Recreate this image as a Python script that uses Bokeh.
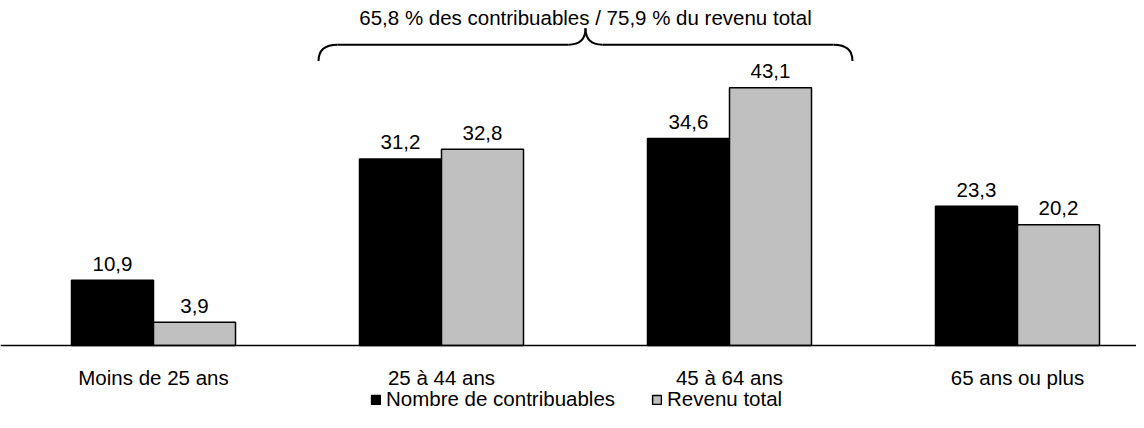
import numpy as np
from bokeh.plotting import figure
from bokeh.models import ColumnDataSource, Range1d, Legend, LegendItem, Span
from bokeh.core.properties import value
from bokeh.transform import dodge
from bokeh.embed import file_html
from bokeh.resources import INLINE

# ---------------- data ----------------
categories = ["Moins de 25 ans", "25 à 44 ans", "45 à 64 ans", "65 ans ou plus"]
series_names = ["Nombre de contribuables", "Revenu total"]
contribuables = [10.9, 31.2, 34.6, 23.3]
revenu = [3.9, 32.8, 43.1, 20.2]
brace_groups = [1, 2]   # groups covered by the brace


def fr(v):
    return f"{v:.1f}".replace(".", ",")


# ---------------- layout / style ----------------
FONT = "Liberation Sans"
FS = "20.5px"
W, H = 1136, 412
PX_PER_CAT = 288.0
BASE_PX = 345.0          # pixel row of the zero line
PX_PER_UNIT = 5.98
BAR_W = 82.0 / PX_PER_CAT
X0 = 0.5 - 153.0 / PX_PER_CAT
GRAY = "#C0C0C0"

x = np.arange(len(categories)) + 0.5
src = ColumnDataSource(dict(
    x=x, cat=categories, c=contribuables, r=revenu,
    cl=[fr(v) for v in contribuables], rl=[fr(v) for v in revenu],
))

p = figure(width=W, height=H,
           x_range=Range1d(X0, X0 + W / PX_PER_CAT),
           y_range=Range1d(-(H - BASE_PX) / PX_PER_UNIT, BASE_PX / PX_PER_UNIT),
           output_backend="svg", toolbar_location=None,
           x_axis_location=None, y_axis_location=None,
           min_border=0, outline_line_color=None)
p.grid.visible = False

r1 = p.vbar(x=dodge("x", -BAR_W / 2, range=p.x_range), top="c", width=BAR_W,
            source=src, fill_color="black", line_color="black", line_width=1.5)
r2 = p.vbar(x=dodge("x", BAR_W / 2, range=p.x_range), top="r", width=BAR_W,
            source=src, fill_color=GRAY, line_color="black", line_width=1.5)

# zero line (category axis line)
p.add_layout(Span(location=0, dimension="width", line_color="black", line_width=1.5))

# category labels under the axis line
p.text(x="x", y=0, text="cat", source=src, text_align="center",
       text_baseline="alphabetic", y_offset=32,
       text_font=value(FONT), text_font_size=FS, text_color="black")

# value labels
for col, lab, off in (("c", "cl", -BAR_W / 2), ("r", "rl", BAR_W / 2)):
    p.text(x=dodge("x", off, range=p.x_range), y=col, text=lab, source=src,
           text_align="center", text_baseline="alphabetic", y_offset=-16.5,
           text_font=value(FONT), text_font_size=FS, text_color="black")

# ---------------- brace + note ----------------
g0, g1 = brace_groups
xl = x[g0] - 1.5 * BAR_W
xr = x[g1] + 1.5 * BAR_W
xc = (x[g0] + x[g1]) / 2
yb, ym, yt = 47.57, 50.30, 53.04
a = 19 / PX_PER_CAT
b = 17 / PX_PER_CAT
p.quadratic(x0=[xl, xr, xc - b, xc + b], y0=[yb, yb, ym, ym],
            x1=[xl + a, xr - a, xc, xc], y1=[ym, ym, yt, yt],
            cx=[xl, xr, xc, xc], cy=[ym, ym, ym, ym],
            line_color="black", line_width=2)
p.segment(x0=[xl + a, xc + b], y0=[ym, ym], x1=[xc - b, xr - a], y1=[ym, ym],
          line_color="black", line_width=2)

s_c = sum(contribuables[i] for i in brace_groups)
s_r = sum(revenu[i] for i in brace_groups)
note = f"{fr(s_c)} % des contribuables / {fr(s_r)} % du revenu total"
p.text(x=[xc], y=[54.77], text=[note], text_align="center",
       text_baseline="alphabetic", text_font=value(FONT), text_font_size=FS,
       text_color="black")

# ---------------- legend ----------------
legend = Legend(items=[LegendItem(label=series_names[0], renderers=[r1]),
                       LegendItem(label=series_names[1], renderers=[r2])],
                orientation="horizontal", location=(370, 1),
                padding=0, margin=0, spacing=36,
                glyph_width=11, glyph_height=11, label_standoff=5,
                label_height=20,
                label_text_font=FONT, label_text_font_size=FS,
                label_text_color="black",
                border_line_color=None, background_fill_alpha=0)
p.add_layout(legend, "center")

open("out.html", "w").write(file_html(p, INLINE))
